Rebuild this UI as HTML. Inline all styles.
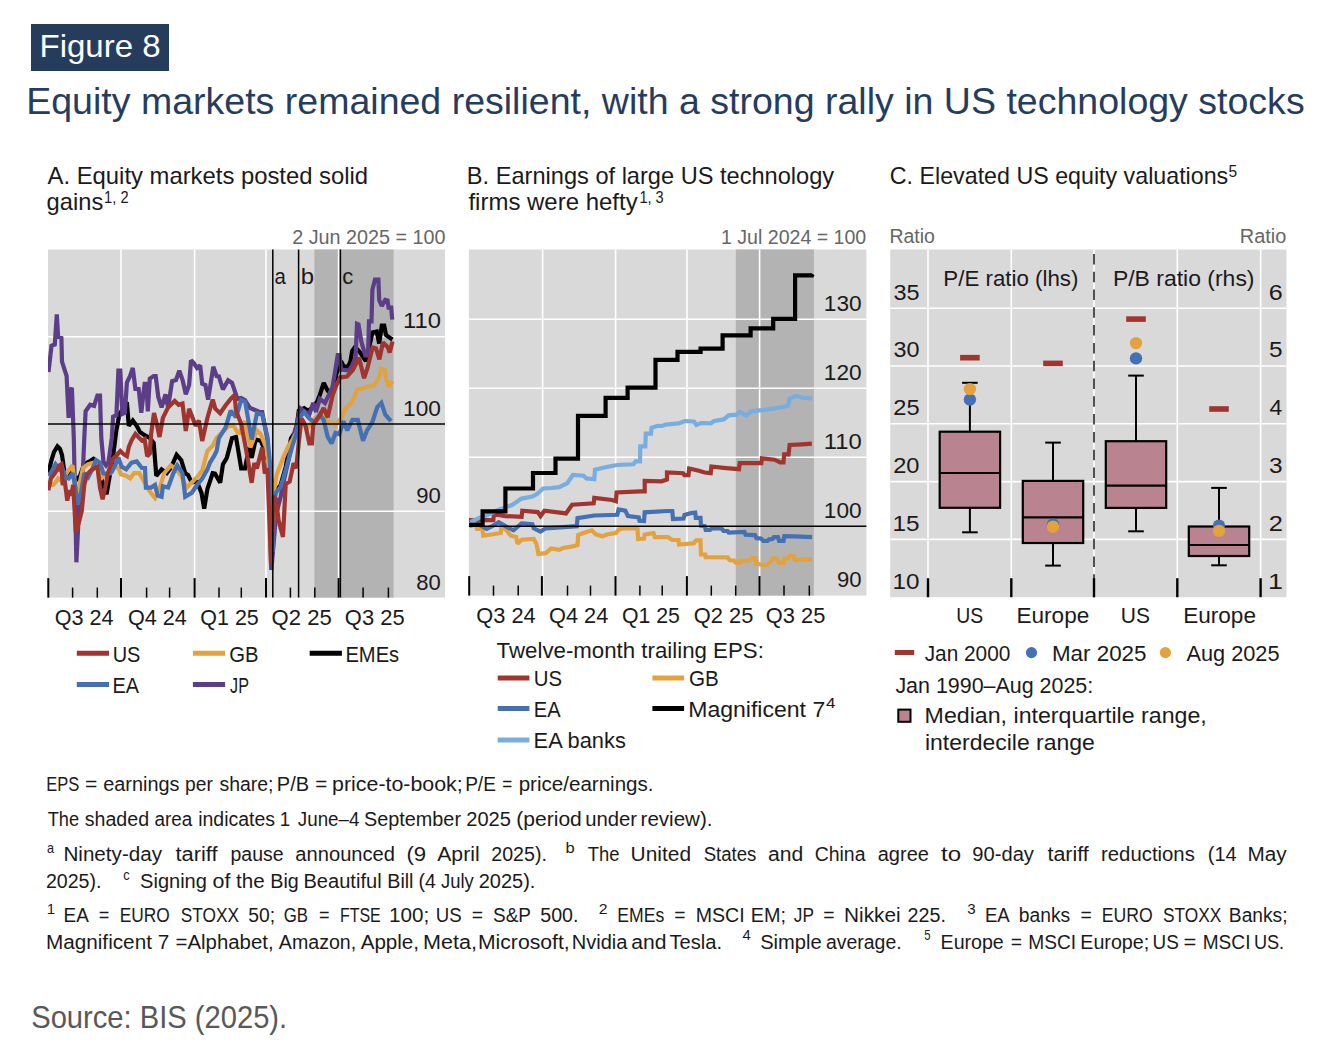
<!DOCTYPE html>
<html><head><meta charset="utf-8"><title>Figure 8</title>
<style>
html,body{margin:0;padding:0;background:#ffffff;}
body{width:1336px;height:1056px;overflow:hidden;}
svg{display:block;font-family:"Liberation Sans", sans-serif;}
</style></head>
<body>
<svg width="1336" height="1056" viewBox="0 0 1336 1056">
<rect x="0" y="0" width="1336" height="1056" fill="#ffffff"/>
<rect x="31.0" y="24.0" width="138.0" height="47.0" fill="#263c5d"/>
<text x="39.49" y="57.2" font-size="32" fill="#ffffff" textLength="121.14" lengthAdjust="spacingAndGlyphs">Figure 8</text>
<text x="26.22" y="113.9" font-size="36" fill="#263c5d" textLength="1278.43" lengthAdjust="spacingAndGlyphs">Equity markets remained resilient, with a strong rally in US technology stocks</text>
<text x="47.55" y="184.0" font-size="24" fill="#1a1a1a" textLength="320.57" lengthAdjust="spacingAndGlyphs">A. Equity markets posted solid</text>
<text x="46.60" y="210.2" font-size="24" fill="#1a1a1a" textLength="56.64" lengthAdjust="spacingAndGlyphs">gains</text>
<text x="104.09" y="202.5" font-size="16" fill="#1a1a1a" textLength="24.45" lengthAdjust="spacingAndGlyphs">1, 2</text>
<text x="466.87" y="184.0" font-size="24" fill="#1a1a1a" textLength="367.27" lengthAdjust="spacingAndGlyphs">B. Earnings of large US technology</text>
<text x="468.46" y="210.2" font-size="24" fill="#1a1a1a" textLength="169.19" lengthAdjust="spacingAndGlyphs">firms were hefty</text>
<text x="639.39" y="202.5" font-size="16" fill="#1a1a1a" textLength="24.34" lengthAdjust="spacingAndGlyphs">1, 3</text>
<text x="889.84" y="184.4" font-size="24" fill="#1a1a1a" textLength="338.39" lengthAdjust="spacingAndGlyphs">C. Elevated US equity valuations</text>
<text x="1228.58" y="176.8" font-size="16" fill="#1a1a1a" textLength="8.66" lengthAdjust="spacingAndGlyphs">5</text>
<text x="292.21" y="243.5" font-size="19.5" fill="#666666" textLength="153.34" lengthAdjust="spacingAndGlyphs">2 Jun 2025 = 100</text>
<text x="721.01" y="243.5" font-size="19.5" fill="#666666" textLength="145.23" lengthAdjust="spacingAndGlyphs">1 Jul 2024 = 100</text>
<text x="889.41" y="243.0" font-size="19.5" fill="#666666" textLength="45.40" lengthAdjust="spacingAndGlyphs">Ratio</text>
<text x="1239.87" y="243.0" font-size="19.5" fill="#666666" textLength="46.46" lengthAdjust="spacingAndGlyphs">Ratio</text>
<rect x="48.0" y="249.5" width="397.0" height="348.1" fill="#d9d9d9"/>
<rect x="314.4" y="249.5" width="79.2" height="348.1" fill="#b3b3b3"/>
<line x1="48.0" y1="336.8" x2="445.0" y2="336.8" stroke="#ffffff" stroke-width="1.6"/>
<line x1="48.0" y1="511.2" x2="445.0" y2="511.2" stroke="#ffffff" stroke-width="1.6"/>
<line x1="121.0" y1="249.5" x2="121.0" y2="597.6" stroke="#ffffff" stroke-width="1.6"/>
<line x1="194.6" y1="249.5" x2="194.6" y2="597.6" stroke="#ffffff" stroke-width="1.6"/>
<line x1="266.0" y1="249.5" x2="266.0" y2="597.6" stroke="#ffffff" stroke-width="1.6"/>
<line x1="338.6" y1="249.5" x2="338.6" y2="597.6" stroke="#ffffff" stroke-width="1.6"/>
<clipPath id="clipA"><rect x="48" y="249.5" width="397" height="348.1"/></clipPath>
<g clip-path="url(#clipA)">
<polyline points="48.3,473.2 51.5,460.1 54.0,452.0 57.4,446.4 60.0,449.0 62.0,454.9 64.6,473.2 67.9,475.8 72.0,472.0 76.0,480.0 80.0,476.0 83.5,466.0 86.9,462.7 90.0,461.0 93.5,458.8 97.0,462.0 100.0,470.0 103.0,485.0 106.6,494.2 109.0,480.0 113.1,456.2 116.4,430.0 118.4,420.0 119.0,415.3 122.0,410.0 126.9,402.2 128.8,425.8 132.8,420.5 136.7,425.8 140.0,432.0 144.6,435.2 149.8,437.9 153.7,443.0 156.3,475.8 161.6,469.3 166.8,473.2 170.8,468.0 176.6,454.9 181.2,460.1 185.2,473.2 188.0,475.0 191.7,482.4 197.0,482.0 201.5,492.9 204.2,508.6 207.4,489.0 212.7,473.2 215.0,473.6 220.2,482.8 222.9,464.4 226.8,457.9 232.0,438.2 236.0,436.9 241.2,468.4 245.0,468.4 249.1,447.4 251.7,457.9 255.6,439.5 260.8,440.8 264.8,450.0 268.7,463.1 272.6,489.3 277.0,489.3 280.5,485.4 285.7,467.0 291.0,438.2 293.6,434.3 296.0,432.0 298.8,410.7 304.1,408.1 308.0,410.7 312.0,408.0 317.2,401.5 319.8,395.0 323.7,382.9 327.7,390.8 331.0,393.0 334.0,385.0 337.0,372.0 341.1,361.2 343.6,366.3 347.9,367.1 350.5,361.2 352.2,350.9 354.7,347.5 358.0,350.0 361.5,354.3 365.8,361.2 369.0,348.0 372.4,332.5 376.7,331.6 379.2,343.5 381.8,325.6 384.2,325.6 386.0,335.0 389.4,337.6 392.5,339.3" fill="none" stroke="#000000" stroke-width="4.2" stroke-linejoin="miter" stroke-miterlimit="2"/>
<polyline points="48.5,372.0 51.5,345.8 54.8,344.5 56.8,314.4 58.1,336.7 61.4,338.0 62.0,361.6 66.6,376.0 68.6,417.9 70.5,390.0 71.9,387.8 73.8,438.0 76.4,562.3 78.5,520.0 80.5,490.0 83.0,468.0 84.3,438.0 85.6,411.3 90.2,404.8 94.1,406.0 97.4,395.6 100.0,395.6 101.3,438.0 103.5,462.0 106.0,465.4 108.5,462.0 111.8,438.0 113.1,416.6 116.4,415.3 118.4,370.7 120.3,370.7 122.3,414.0 124.9,412.7 126.9,382.5 130.1,376.0 132.8,368.0 135.4,389.0 138.7,389.0 141.3,412.7 144.6,383.8 146.5,383.8 147.8,411.3 149.8,378.6 153.7,376.0 155.7,376.0 158.3,397.0 161.6,407.4 165.5,394.3 168.1,407.4 172.1,381.2 176.0,380.0 179.3,370.7 182.5,379.9 185.8,394.3 189.1,385.1 191.0,360.3 193.6,362.9 197.0,368.0 200.2,365.5 202.2,383.8 205.4,385.1 208.1,399.6 213.3,366.8 216.6,376.0 218.9,376.3 222.9,389.4 228.1,380.3 232.0,382.9 236.0,394.7 237.3,398.9 241.0,398.0 245.0,400.0 250.0,408.0 255.0,410.0 259.5,412.0 262.2,412.0 267.4,439.5 269.5,500.0 271.3,570.0 273.5,545.0 276.0,515.0 280.5,497.2 284.0,480.0 288.4,460.5 293.6,435.6 297.5,421.2 300.1,408.1 305.4,412.0 309.3,414.6 313.2,402.9 315.9,412.0 319.8,398.9 325.0,402.9 329.0,394.7 332.6,386.7 335.0,372.0 337.7,355.2 339.5,355.2 341.1,369.7 348.8,370.5 352.0,366.0 355.6,356.9 357.0,323.9 358.5,324.5 361.5,342.4 365.8,356.9 368.1,352.0 369.0,321.4 371.5,321.4 372.4,289.8 375.0,279.6 378.4,279.6 379.2,300.0 381.8,306.0 385.2,300.0 387.5,300.5 388.6,307.7 391.2,307.7 392.2,319.7" fill="none" stroke="#5c3d87" stroke-width="4.2" stroke-linejoin="miter" stroke-miterlimit="2"/>
<polyline points="48.3,485.0 52.9,485.0 55.5,482.4 58.1,478.5 62.0,481.1 67.3,471.9 72.5,465.4 76.4,498.1 79.1,486.3 83.0,468.0 88.2,464.1 93.5,462.7 98.7,464.1 102.6,477.2 106.6,473.2 110.5,473.2 114.4,466.7 118.4,468.0 121.0,474.5 126.2,475.8 130.1,478.5 134.1,473.2 139.3,473.2 144.6,482.4 149.8,491.6 155.0,498.1 160.3,486.3 164.2,473.2 170.8,465.4 176.0,469.3 181.2,475.8 186.5,487.6 191.7,482.4 197.0,477.2 202.2,470.6 207.4,451.0 212.7,445.7 216.6,437.9 221.5,433.0 228.1,426.4 233.3,425.1 238.6,434.3 245.1,421.2 250.4,447.4 256.9,430.4 260.8,434.3 266.1,447.4 271.3,484.1 274.0,492.0 276.6,474.9 283.1,457.9 288.4,446.1 293.6,438.2 298.8,427.7 302.8,421.2 306.7,429.1 314.6,418.6 322.4,416.0 329.0,422.5 335.5,425.1 340.8,418.6 346.0,408.1 351.2,402.9 353.9,398.0 357.3,389.3 362.4,388.4 367.5,386.7 374.3,385.0 378.6,378.2 381.2,368.8 384.6,369.7 386.3,379.9 388.8,386.7 392.5,380.8" fill="none" stroke="#e3a23e" stroke-width="4.2" stroke-linejoin="miter" stroke-miterlimit="2"/>
<polyline points="48.3,475.8 51.5,471.9 55.5,464.1 59.4,469.3 62.0,466.7 65.3,477.2 68.6,478.5 72.5,473.2 75.1,485.0 77.7,504.7 81.0,492.9 84.3,473.2 88.2,477.2 92.2,469.3 96.1,460.1 100.0,462.7 103.3,473.2 107.9,474.5 111.8,471.9 115.7,464.1 118.4,457.5 121.6,466.7 126.2,469.3 131.5,462.7 136.7,461.4 141.9,468.0 145.0,468.0 145.9,487.6 151.1,487.6 155.0,485.0 157.7,495.5 161.6,496.8 162.9,486.3 168.1,487.6 173.4,473.2 177.3,465.4 182.5,473.2 185.2,496.8 191.7,492.9 197.0,485.0 202.2,478.5 207.4,469.3 210.0,462.7 214.0,456.2 216.6,451.0 218.9,438.2 225.5,427.7 230.7,410.7 236.0,417.3 241.2,400.2 245.1,401.5 251.7,439.5 256.9,413.3 262.2,414.6 267.4,436.9 270.0,463.1 271.8,530.0 272.8,552.0 274.2,500.0 276.3,492.0 279.0,489.0 280.5,487.0 283.1,478.8 288.4,460.5 292.3,446.1 296.2,434.3 298.8,418.6 304.1,412.0 309.3,418.6 314.6,422.5 319.8,414.6 323.7,419.9 327.7,436.9 331.6,443.5 335.5,433.0 339.4,434.3 343.4,421.2 347.3,430.4 352.5,419.9 357.8,419.9 363.0,440.8 367.0,430.4 372.2,422.5 377.4,406.8 381.4,402.9 385.3,414.6 391.0,421.2" fill="none" stroke="#4570b3" stroke-width="4.2" stroke-linejoin="miter" stroke-miterlimit="2"/>
<polyline points="48.3,490.3 50.9,478.5 54.8,473.2 57.4,469.3 59.4,465.4 61.4,464.1 62.7,485.0 64.6,479.8 67.3,500.7 69.2,490.3 71.2,495.5 73.2,485.0 75.8,532.2 79.1,521.7 81.7,511.2 84.3,485.0 86.9,474.5 90.8,470.6 94.8,468.0 97.4,466.7 100.0,487.6 102.6,499.4 105.3,487.6 107.9,473.2 110.5,465.4 113.1,458.8 116.4,455.5 120.3,451.0 123.6,454.2 126.9,456.2 128.8,447.0 131.5,440.5 135.4,434.0 139.3,437.9 141.9,440.5 144.6,439.0 147.2,456.2 149.8,453.6 151.1,434.0 154.0,413.0 157.0,425.0 159.5,437.0 162.9,417.9 168.1,407.4 174.7,400.9 178.6,404.8 182.5,403.5 185.8,431.0 189.1,408.7 195.6,425.8 198.9,420.5 202.2,441.0 207.4,417.9 212.7,399.6 215.3,408.7 220.2,413.3 225.5,405.5 230.7,398.9 234.6,395.0 236.0,410.7 241.2,423.8 246.4,451.3 251.7,482.8 254.3,463.1 256.9,468.4 262.2,447.4 264.8,473.6 267.4,468.4 271.0,564.0 273.8,496.0 276.0,499.0 278.5,520.0 283.0,537.0 285.7,484.1 289.7,481.5 293.6,463.1 296.2,468.4 298.8,442.2 301.5,418.6 305.4,425.1 309.3,443.5 311.9,443.5 313.2,425.1 318.5,417.3 323.7,408.1 327.7,417.3 332.6,395.3 336.0,386.0 340.2,377.3 347.0,376.5 353.0,369.7 359.0,357.7 364.1,378.2 367.5,368.0 372.6,347.5 376.0,348.5 379.4,359.4 382.9,342.4 388.0,347.5 389.7,352.6 392.5,341.5" fill="none" stroke="#a0342f" stroke-width="4.2" stroke-linejoin="miter" stroke-miterlimit="2"/>
</g>
<line x1="48.0" y1="424.0" x2="445.0" y2="424.0" stroke="#000000" stroke-width="1.5"/>
<line x1="272.8" y1="249.5" x2="272.8" y2="597.6" stroke="#000000" stroke-width="1.5"/>
<line x1="298.6" y1="249.5" x2="298.6" y2="597.6" stroke="#000000" stroke-width="1.5"/>
<line x1="340.4" y1="249.5" x2="340.4" y2="597.6" stroke="#000000" stroke-width="1.5"/>
<text x="274.44" y="283.5" font-size="21.5" fill="#1a1a1a" textLength="11.34" lengthAdjust="spacingAndGlyphs">a</text>
<text x="300.67" y="283.5" font-size="21.5" fill="#1a1a1a" textLength="13.32" lengthAdjust="spacingAndGlyphs">b</text>
<text x="342.38" y="283.5" font-size="21.5" fill="#1a1a1a" textLength="11.00" lengthAdjust="spacingAndGlyphs">c</text>
<line x1="48.3" y1="578.1" x2="48.3" y2="597.6" stroke="#000000" stroke-width="2"/>
<line x1="121.0" y1="578.1" x2="121.0" y2="597.6" stroke="#000000" stroke-width="2"/>
<line x1="194.6" y1="578.1" x2="194.6" y2="597.6" stroke="#000000" stroke-width="2"/>
<line x1="266.0" y1="578.1" x2="266.0" y2="597.6" stroke="#000000" stroke-width="2"/>
<line x1="338.6" y1="578.1" x2="338.6" y2="597.6" stroke="#000000" stroke-width="2"/>
<line x1="72.6" y1="587.6" x2="72.6" y2="597.6" stroke="#000000" stroke-width="1.5"/>
<line x1="97.3" y1="587.6" x2="97.3" y2="597.6" stroke="#000000" stroke-width="1.5"/>
<line x1="146.6" y1="587.6" x2="146.6" y2="597.6" stroke="#000000" stroke-width="1.5"/>
<line x1="169.6" y1="587.6" x2="169.6" y2="597.6" stroke="#000000" stroke-width="1.5"/>
<line x1="219.0" y1="587.6" x2="219.0" y2="597.6" stroke="#000000" stroke-width="1.5"/>
<line x1="241.3" y1="587.6" x2="241.3" y2="597.6" stroke="#000000" stroke-width="1.5"/>
<line x1="290.4" y1="587.6" x2="290.4" y2="597.6" stroke="#000000" stroke-width="1.5"/>
<line x1="314.8" y1="587.6" x2="314.8" y2="597.6" stroke="#000000" stroke-width="1.5"/>
<line x1="363.1" y1="587.6" x2="363.1" y2="597.6" stroke="#000000" stroke-width="1.5"/>
<line x1="388.4" y1="587.6" x2="388.4" y2="597.6" stroke="#000000" stroke-width="1.5"/>
<text x="402.99" y="328.0" font-size="21.5" fill="#1a1a1a" textLength="37.92" lengthAdjust="spacingAndGlyphs">110</text>
<text x="403.08" y="415.7" font-size="21.5" fill="#1a1a1a" textLength="37.79" lengthAdjust="spacingAndGlyphs">100</text>
<text x="416.28" y="502.6" font-size="21.5" fill="#1a1a1a" textLength="24.56" lengthAdjust="spacingAndGlyphs">90</text>
<text x="416.35" y="589.9" font-size="21.5" fill="#1a1a1a" textLength="24.49" lengthAdjust="spacingAndGlyphs">80</text>
<text x="54.68" y="624.7" font-size="21.5" fill="#1a1a1a" textLength="58.84" lengthAdjust="spacingAndGlyphs">Q3 24</text>
<text x="127.98" y="624.7" font-size="21.5" fill="#1a1a1a" textLength="58.84" lengthAdjust="spacingAndGlyphs">Q4 24</text>
<text x="200.29" y="624.7" font-size="21.5" fill="#1a1a1a" textLength="58.49" lengthAdjust="spacingAndGlyphs">Q1 25</text>
<text x="271.56" y="624.7" font-size="21.5" fill="#1a1a1a" textLength="60.15" lengthAdjust="spacingAndGlyphs">Q2 25</text>
<text x="344.87" y="624.7" font-size="21.5" fill="#1a1a1a" textLength="59.73" lengthAdjust="spacingAndGlyphs">Q3 25</text>
<line x1="76.8" y1="653.2" x2="109.0" y2="653.2" stroke="#a0342f" stroke-width="5.0"/>
<text x="112.66" y="661.5" font-size="21.5" fill="#1a1a1a" textLength="27.74" lengthAdjust="spacingAndGlyphs">US</text>
<line x1="192.9" y1="653.2" x2="225.1" y2="653.2" stroke="#e3a23e" stroke-width="5.0"/>
<text x="229.29" y="661.5" font-size="21.5" fill="#1a1a1a" textLength="29.26" lengthAdjust="spacingAndGlyphs">GB</text>
<line x1="309.7" y1="653.2" x2="341.9" y2="653.2" stroke="#000000" stroke-width="5.0"/>
<text x="345.45" y="661.5" font-size="21.5" fill="#1a1a1a" textLength="53.68" lengthAdjust="spacingAndGlyphs">EMEs</text>
<line x1="76.8" y1="684.5" x2="109.0" y2="684.5" stroke="#4570b3" stroke-width="5.0"/>
<text x="112.57" y="692.8" font-size="21.5" fill="#1a1a1a" textLength="26.47" lengthAdjust="spacingAndGlyphs">EA</text>
<line x1="192.9" y1="684.5" x2="225.1" y2="684.5" stroke="#5c3d87" stroke-width="5.0"/>
<text x="230.06" y="692.8" font-size="21.5" fill="#1a1a1a" textLength="18.88" lengthAdjust="spacingAndGlyphs">JP</text>
<rect x="468.9" y="249.5" width="397.5" height="346.1" fill="#d9d9d9"/>
<rect x="735.8" y="249.5" width="78.1" height="346.1" fill="#b3b3b3"/>
<line x1="468.9" y1="319.2" x2="866.4" y2="319.2" stroke="#ffffff" stroke-width="1.6"/>
<line x1="468.9" y1="388.2" x2="866.4" y2="388.2" stroke="#ffffff" stroke-width="1.6"/>
<line x1="468.9" y1="457.2" x2="866.4" y2="457.2" stroke="#ffffff" stroke-width="1.6"/>
<line x1="542.6" y1="249.5" x2="542.6" y2="595.6" stroke="#ffffff" stroke-width="1.6"/>
<line x1="615.6" y1="249.5" x2="615.6" y2="595.6" stroke="#ffffff" stroke-width="1.6"/>
<line x1="687.0" y1="249.5" x2="687.0" y2="595.6" stroke="#ffffff" stroke-width="1.6"/>
<line x1="759.6" y1="249.5" x2="759.6" y2="595.6" stroke="#ffffff" stroke-width="1.6"/>
<clipPath id="clipB"><rect x="468.9" y="249.5" width="397.5" height="346.1"/></clipPath>
<g clip-path="url(#clipB)">
<polyline points="469.5,524.9 475.8,524.9 477.1,528.9 482.5,528.9 483.2,535.7 493.3,534.3 500.7,533.0 501.4,527.6 505.4,528.9 510.8,535.7 516.2,537.0 517.5,543.7 521.6,539.7 533.7,539.0 536.4,543.7 538.4,553.9 545.8,553.2 551.2,548.5 559.3,549.8 563.0,548.0 572.8,546.4 577.5,545.1 578.2,535.0 583.6,533.0 591.7,530.3 595.7,534.3 602.4,536.3 607.8,534.3 615.9,533.0 618.6,529.6 624.0,528.3 637.5,528.3 638.1,539.0 644.0,538.6 644.7,534.5 653.5,533.2 654.8,537.2 668.0,537.2 672.3,540.0 678.5,540.0 679.0,544.6 693.9,543.3 694.7,541.9 696.3,540.3 700.5,540.3 701.0,554.5 705.2,554.5 705.7,557.1 727.7,557.4 729.8,560.3 734.0,560.5 736.1,562.9 740.0,562.9 740.3,560.8 749.0,560.5 751.8,558.2 755.5,558.2 756.0,563.4 762.3,565.0 767.0,565.0 769.6,562.9 772.8,558.7 777.0,558.7 779.1,562.9 783.5,562.9 784.3,558.7 787.5,558.7 789.5,556.1 794.0,556.1 794.8,560.3 812.1,559.2" fill="none" stroke="#e3a23e" stroke-width="4.2" stroke-linejoin="miter" stroke-miterlimit="2"/>
<polyline points="469.5,525.6 478.5,524.2 486.6,528.9 494.6,524.9 498.7,522.2 506.8,526.9 513.5,530.3 521.6,523.5 532.4,524.2 533.7,528.3 540.5,531.6 545.8,528.3 576.8,526.2 577.5,518.1 594.3,515.5 617.3,514.8 618.6,509.4 625.3,510.7 628.0,516.1 638.8,517.5 639.5,520.8 644.0,521.0 644.7,512.3 667.0,511.0 672.3,511.0 673.0,519.0 683.5,518.5 684.5,515.0 691.2,513.0 695.2,512.6 695.8,517.8 700.5,517.8 701.0,525.7 704.7,526.2 705.7,529.9 710.0,529.9 712.0,528.3 721.4,528.3 723.5,530.9 727.5,531.0 728.8,532.5 744.5,532.0 745.5,534.6 755.0,535.1 756.5,538.2 761.0,538.5 763.4,540.9 767.5,540.9 769.1,539.3 772.5,539.0 773.8,537.2 778.0,537.2 779.1,540.9 783.5,540.9 784.3,536.2 795.0,536.3 812.1,537.2" fill="none" stroke="#4570b3" stroke-width="4.2" stroke-linejoin="miter" stroke-miterlimit="2"/>
<polyline points="469.5,522.2 470.4,520.2 493.3,520.2 494.0,514.1 505.4,516.1 521.6,516.8 522.3,510.7 537.8,512.1 540.5,516.1 544.5,510.7 566.0,513.4 572.1,504.7 593.7,503.3 594.3,497.9 611.9,500.0 615.9,501.3 616.6,492.5 640.5,491.4 644.7,491.4 644.7,481.0 661.6,481.3 667.0,479.5 667.0,472.5 683.1,473.2 684.5,475.2 688.5,475.2 689.2,468.5 697.9,470.5 704.7,472.5 710.7,473.2 711.4,466.5 723.5,467.8 739.0,469.2 739.7,463.1 761.3,463.1 761.9,458.4 774.7,459.7 780.1,462.4 783.5,462.4 784.2,454.4 788.6,454.4 789.6,444.9 801.7,444.3 811.8,443.6" fill="none" stroke="#a0342f" stroke-width="4.2" stroke-linejoin="miter" stroke-miterlimit="2"/>
<polyline points="470.4,522.2 478.5,518.1 485.0,516.0 492.0,512.8 498.0,510.0 505.4,507.4 512.0,505.0 521.6,498.6 532.4,496.6 537.0,494.0 543.1,488.5 551.0,488.0 559.3,487.2 567.4,483.1 572.8,475.0 583.6,475.7 586.3,478.4 594.3,479.1 595.0,469.6 606.5,467.0 617.3,465.0 633.4,464.3 635.5,461.3 640.0,461.3 640.3,446.4 645.3,446.4 645.8,433.6 651.0,433.6 651.5,427.9 657.8,425.8 662.0,426.0 665.8,424.6 678.6,423.4 685.0,421.0 694.0,421.5 696.4,425.0 701.0,423.0 710.8,423.4 714.1,421.0 723.7,419.4 728.6,415.4 736.6,414.6 739.8,412.1 746.3,415.4 751.1,411.3 765.6,409.7 781.7,407.3 788.1,405.7 789.7,398.5 796.2,396.0 802.0,397.5 812.3,398.5" fill="none" stroke="#78ade0" stroke-width="4.2" stroke-linejoin="miter" stroke-miterlimit="2"/>
<polyline points="469.0,524.8 482.6,524.8 482.6,511.4 505.4,511.4 505.4,488.5 533.0,488.5 533.0,473.0 555.5,473.0 555.5,458.6 578.0,458.6 578.0,415.8 605.6,415.8 605.6,397.8 627.6,397.8 627.6,387.6 655.5,387.6 655.5,359.8 677.5,359.8 677.5,351.8 700.6,351.8 700.6,348.6 722.6,348.6 722.6,335.4 750.6,335.4 750.6,328.4 773.2,328.4 773.2,318.8 795.1,318.8 795.1,275.3 812.0,275.3 812.6,274.0" fill="none" stroke="#000000" stroke-width="4.2" stroke-linejoin="miter" stroke-miterlimit="2"/>
</g>
<line x1="468.9" y1="526.2" x2="866.4" y2="526.2" stroke="#000000" stroke-width="1.5"/>
<line x1="469.2" y1="576.1" x2="469.2" y2="595.6" stroke="#000000" stroke-width="2"/>
<line x1="541.9" y1="576.1" x2="541.9" y2="595.6" stroke="#000000" stroke-width="2"/>
<line x1="615.5" y1="576.1" x2="615.5" y2="595.6" stroke="#000000" stroke-width="2"/>
<line x1="686.9" y1="576.1" x2="686.9" y2="595.6" stroke="#000000" stroke-width="2"/>
<line x1="759.5" y1="576.1" x2="759.5" y2="595.6" stroke="#000000" stroke-width="2"/>
<line x1="493.5" y1="585.6" x2="493.5" y2="595.6" stroke="#000000" stroke-width="1.5"/>
<line x1="518.2" y1="585.6" x2="518.2" y2="595.6" stroke="#000000" stroke-width="1.5"/>
<line x1="567.5" y1="585.6" x2="567.5" y2="595.6" stroke="#000000" stroke-width="1.5"/>
<line x1="590.5" y1="585.6" x2="590.5" y2="595.6" stroke="#000000" stroke-width="1.5"/>
<line x1="639.9" y1="585.6" x2="639.9" y2="595.6" stroke="#000000" stroke-width="1.5"/>
<line x1="662.2" y1="585.6" x2="662.2" y2="595.6" stroke="#000000" stroke-width="1.5"/>
<line x1="711.3" y1="585.6" x2="711.3" y2="595.6" stroke="#000000" stroke-width="1.5"/>
<line x1="735.7" y1="585.6" x2="735.7" y2="595.6" stroke="#000000" stroke-width="1.5"/>
<line x1="784.0" y1="585.6" x2="784.0" y2="595.6" stroke="#000000" stroke-width="1.5"/>
<line x1="809.3" y1="585.6" x2="809.3" y2="595.6" stroke="#000000" stroke-width="1.5"/>
<text x="823.88" y="310.7" font-size="21.5" fill="#1a1a1a" textLength="37.79" lengthAdjust="spacingAndGlyphs">130</text>
<text x="823.88" y="379.7" font-size="21.5" fill="#1a1a1a" textLength="37.79" lengthAdjust="spacingAndGlyphs">120</text>
<text x="823.79" y="448.7" font-size="21.5" fill="#1a1a1a" textLength="37.92" lengthAdjust="spacingAndGlyphs">110</text>
<text x="823.88" y="517.7" font-size="21.5" fill="#1a1a1a" textLength="37.79" lengthAdjust="spacingAndGlyphs">100</text>
<text x="837.08" y="586.7" font-size="21.5" fill="#1a1a1a" textLength="24.56" lengthAdjust="spacingAndGlyphs">90</text>
<text x="476.28" y="622.5" font-size="21.5" fill="#1a1a1a" textLength="59.36" lengthAdjust="spacingAndGlyphs">Q3 24</text>
<text x="548.98" y="622.5" font-size="21.5" fill="#1a1a1a" textLength="59.36" lengthAdjust="spacingAndGlyphs">Q4 24</text>
<text x="621.90" y="622.5" font-size="21.5" fill="#1a1a1a" textLength="57.98" lengthAdjust="spacingAndGlyphs">Q1 25</text>
<text x="693.77" y="622.5" font-size="21.5" fill="#1a1a1a" textLength="59.53" lengthAdjust="spacingAndGlyphs">Q2 25</text>
<text x="765.77" y="622.5" font-size="21.5" fill="#1a1a1a" textLength="59.53" lengthAdjust="spacingAndGlyphs">Q3 25</text>
<text x="496.61" y="657.7" font-size="21.5" fill="#1a1a1a" textLength="267.21" lengthAdjust="spacingAndGlyphs">Twelve-month trailing EPS:</text>
<line x1="497.7" y1="678.1" x2="529.4" y2="678.1" stroke="#a0342f" stroke-width="5.0"/>
<text x="533.83" y="686.2" font-size="21.5" fill="#1a1a1a" textLength="28.29" lengthAdjust="spacingAndGlyphs">US</text>
<line x1="652.4" y1="678.1" x2="684.1" y2="678.1" stroke="#e3a23e" stroke-width="5.0"/>
<text x="689.07" y="686.2" font-size="21.5" fill="#1a1a1a" textLength="29.80" lengthAdjust="spacingAndGlyphs">GB</text>
<line x1="497.7" y1="708.6" x2="529.4" y2="708.6" stroke="#4570b3" stroke-width="5.0"/>
<text x="533.75" y="716.7" font-size="21.5" fill="#1a1a1a" textLength="26.79" lengthAdjust="spacingAndGlyphs">EA</text>
<line x1="652.4" y1="708.6" x2="684.1" y2="708.6" stroke="#000000" stroke-width="5.0"/>
<text x="688.21" y="716.7" font-size="21.5" fill="#1a1a1a" textLength="137.04" lengthAdjust="spacingAndGlyphs">Magnificent 7</text>
<line x1="497.7" y1="740.0" x2="529.4" y2="740.0" stroke="#78ade0" stroke-width="5.0"/>
<text x="533.61" y="748.1" font-size="21.5" fill="#1a1a1a" textLength="92.18" lengthAdjust="spacingAndGlyphs">EA banks</text>
<text x="825.93" y="707.7" font-size="15.5" fill="#1a1a1a" textLength="9.47" lengthAdjust="spacingAndGlyphs">4</text>
<rect x="890.2" y="249.5" width="396.3" height="347.7" fill="#d9d9d9"/>
<line x1="890.2" y1="539.4" x2="1286.5" y2="539.4" stroke="#ffffff" stroke-width="1.6"/>
<line x1="890.2" y1="481.6" x2="1286.5" y2="481.6" stroke="#ffffff" stroke-width="1.6"/>
<line x1="890.2" y1="423.8" x2="1286.5" y2="423.8" stroke="#ffffff" stroke-width="1.6"/>
<line x1="890.2" y1="366.0" x2="1286.5" y2="366.0" stroke="#ffffff" stroke-width="1.6"/>
<line x1="890.2" y1="308.2" x2="1286.5" y2="308.2" stroke="#ffffff" stroke-width="1.6"/>
<line x1="928.0" y1="249.5" x2="928.0" y2="597.2" stroke="#ffffff" stroke-width="1.6"/>
<line x1="1011.3" y1="249.5" x2="1011.3" y2="597.2" stroke="#ffffff" stroke-width="1.6"/>
<line x1="1094.0" y1="249.5" x2="1094.0" y2="597.2" stroke="#ffffff" stroke-width="1.6"/>
<line x1="1177.3" y1="249.5" x2="1177.3" y2="597.2" stroke="#ffffff" stroke-width="1.6"/>
<line x1="1260.6" y1="249.5" x2="1260.6" y2="597.2" stroke="#ffffff" stroke-width="1.6"/>
<line x1="1094.0" y1="253.9" x2="1094.0" y2="597.2" stroke="#505050" stroke-width="2" stroke-dasharray="10.5 7.3"/>
<line x1="928.0" y1="578.2" x2="928.0" y2="597.2" stroke="#000000" stroke-width="2.4"/>
<line x1="1011.3" y1="578.2" x2="1011.3" y2="597.2" stroke="#000000" stroke-width="2.4"/>
<line x1="1094.0" y1="578.2" x2="1094.0" y2="597.2" stroke="#000000" stroke-width="2.4"/>
<line x1="1177.3" y1="578.2" x2="1177.3" y2="597.2" stroke="#000000" stroke-width="2.4"/>
<line x1="1260.6" y1="578.2" x2="1260.6" y2="597.2" stroke="#000000" stroke-width="2.4"/>
<text x="943.37" y="285.5" font-size="21.5" fill="#1a1a1a" textLength="135.01" lengthAdjust="spacingAndGlyphs">P/E ratio (lhs)</text>
<text x="1112.92" y="285.5" font-size="21.5" fill="#1a1a1a" textLength="141.61" lengthAdjust="spacingAndGlyphs">P/B ratio (rhs)</text>
<text x="892.56" y="588.6" font-size="21.5" fill="#1a1a1a" textLength="26.97" lengthAdjust="spacingAndGlyphs">10</text>
<text x="892.55" y="530.8" font-size="21.5" fill="#1a1a1a" textLength="27.05" lengthAdjust="spacingAndGlyphs">15</text>
<text x="893.22" y="473.0" font-size="21.5" fill="#1a1a1a" textLength="26.29" lengthAdjust="spacingAndGlyphs">20</text>
<text x="893.21" y="415.2" font-size="21.5" fill="#1a1a1a" textLength="26.36" lengthAdjust="spacingAndGlyphs">25</text>
<text x="893.51" y="357.4" font-size="21.5" fill="#1a1a1a" textLength="25.98" lengthAdjust="spacingAndGlyphs">30</text>
<text x="893.51" y="299.6" font-size="21.5" fill="#1a1a1a" textLength="26.06" lengthAdjust="spacingAndGlyphs">35</text>
<text x="1267.96" y="588.6" font-size="21.5" fill="#1a1a1a" textLength="14.93" lengthAdjust="spacingAndGlyphs">1</text>
<text x="1268.73" y="530.8" font-size="21.5" fill="#1a1a1a" textLength="14.15" lengthAdjust="spacingAndGlyphs">2</text>
<text x="1269.07" y="473.0" font-size="21.5" fill="#1a1a1a" textLength="13.58" lengthAdjust="spacingAndGlyphs">3</text>
<text x="1269.49" y="415.2" font-size="21.5" fill="#1a1a1a" textLength="12.78" lengthAdjust="spacingAndGlyphs">4</text>
<text x="1269.02" y="357.4" font-size="21.5" fill="#1a1a1a" textLength="13.58" lengthAdjust="spacingAndGlyphs">5</text>
<text x="1268.75" y="299.6" font-size="21.5" fill="#1a1a1a" textLength="13.93" lengthAdjust="spacingAndGlyphs">6</text>
<text x="956.20" y="623.3" font-size="21.5" fill="#1a1a1a" textLength="26.97" lengthAdjust="spacingAndGlyphs">US</text>
<text x="1016.45" y="623.3" font-size="21.5" fill="#1a1a1a" textLength="72.86" lengthAdjust="spacingAndGlyphs">Europe</text>
<text x="1120.78" y="623.3" font-size="21.5" fill="#1a1a1a" textLength="29.16" lengthAdjust="spacingAndGlyphs">US</text>
<text x="1183.15" y="623.3" font-size="21.5" fill="#1a1a1a" textLength="72.86" lengthAdjust="spacingAndGlyphs">Europe</text>
<line x1="969.9" y1="382.8" x2="969.9" y2="431.7" stroke="#000000" stroke-width="2"/>
<line x1="969.9" y1="507.8" x2="969.9" y2="532.3" stroke="#000000" stroke-width="2"/>
<line x1="962.1" y1="382.8" x2="977.7" y2="382.8" stroke="#000000" stroke-width="2"/>
<line x1="962.1" y1="532.3" x2="977.7" y2="532.3" stroke="#000000" stroke-width="2"/>
<rect x="939.7" y="431.7" width="60.4" height="76.1" fill="#b9838f" stroke="#000000" stroke-width="2.2"/>
<line x1="939.7" y1="473.0" x2="1000.1" y2="473.0" stroke="#000000" stroke-width="2.2"/>
<rect x="960.1" y="354.9" width="19.6" height="5.6" fill="#a0342f"/>
<line x1="1053.0" y1="442.6" x2="1053.0" y2="480.9" stroke="#000000" stroke-width="2"/>
<line x1="1053.0" y1="543.0" x2="1053.0" y2="565.6" stroke="#000000" stroke-width="2"/>
<line x1="1045.2" y1="442.6" x2="1060.8" y2="442.6" stroke="#000000" stroke-width="2"/>
<line x1="1045.2" y1="565.6" x2="1060.8" y2="565.6" stroke="#000000" stroke-width="2"/>
<rect x="1022.8" y="480.9" width="60.4" height="62.1" fill="#b9838f" stroke="#000000" stroke-width="2.2"/>
<line x1="1022.8" y1="517.3" x2="1083.2" y2="517.3" stroke="#000000" stroke-width="2.2"/>
<rect x="1043.2" y="360.6" width="19.6" height="5.6" fill="#a0342f"/>
<line x1="1136.0" y1="375.6" x2="1136.0" y2="441.2" stroke="#000000" stroke-width="2"/>
<line x1="1136.0" y1="507.9" x2="1136.0" y2="531.3" stroke="#000000" stroke-width="2"/>
<line x1="1128.2" y1="375.6" x2="1143.8" y2="375.6" stroke="#000000" stroke-width="2"/>
<line x1="1128.2" y1="531.3" x2="1143.8" y2="531.3" stroke="#000000" stroke-width="2"/>
<rect x="1105.8" y="441.2" width="60.4" height="66.7" fill="#b9838f" stroke="#000000" stroke-width="2.2"/>
<line x1="1105.8" y1="485.6" x2="1166.2" y2="485.6" stroke="#000000" stroke-width="2.2"/>
<rect x="1126.2" y="316.3" width="19.6" height="5.6" fill="#a0342f"/>
<line x1="1219.0" y1="487.9" x2="1219.0" y2="526.5" stroke="#000000" stroke-width="2"/>
<line x1="1219.0" y1="556.0" x2="1219.0" y2="565.3" stroke="#000000" stroke-width="2"/>
<line x1="1211.2" y1="487.9" x2="1226.8" y2="487.9" stroke="#000000" stroke-width="2"/>
<line x1="1211.2" y1="565.3" x2="1226.8" y2="565.3" stroke="#000000" stroke-width="2"/>
<rect x="1188.8" y="526.5" width="60.4" height="29.5" fill="#b9838f" stroke="#000000" stroke-width="2.2"/>
<line x1="1188.8" y1="545.0" x2="1249.2" y2="545.0" stroke="#000000" stroke-width="2.2"/>
<rect x="1209.2" y="406.2" width="19.6" height="5.6" fill="#a0342f"/>
<circle cx="969.9" cy="399.6" r="6.2" fill="#4570b3"/>
<circle cx="969.9" cy="389.1" r="6.2" fill="#e3a23e"/>
<circle cx="1053.0" cy="524.5" r="6.2" fill="#4570b3"/>
<circle cx="1053.0" cy="526.7" r="6.2" fill="#e3a23e"/>
<circle cx="1136.0" cy="358.4" r="6.2" fill="#4570b3"/>
<circle cx="1136.0" cy="343.1" r="6.2" fill="#e3a23e"/>
<circle cx="1219.0" cy="525.7" r="6.2" fill="#4570b3"/>
<circle cx="1219.0" cy="530.9" r="6.2" fill="#e3a23e"/>
<line x1="894.8" y1="652.5" x2="914.2" y2="652.5" stroke="#a0342f" stroke-width="5.0"/>
<text x="924.69" y="660.8" font-size="21.5" fill="#1a1a1a" textLength="85.60" lengthAdjust="spacingAndGlyphs">Jan 2000</text>
<circle cx="1031.5" cy="652.6" r="5.6" fill="#4570b3"/>
<text x="1051.96" y="660.8" font-size="21.5" fill="#1a1a1a" textLength="94.57" lengthAdjust="spacingAndGlyphs">Mar 2025</text>
<circle cx="1165.4" cy="652.6" r="5.6" fill="#e3a23e"/>
<text x="1186.46" y="660.8" font-size="21.5" fill="#1a1a1a" textLength="93.03" lengthAdjust="spacingAndGlyphs">Aug 2025</text>
<text x="895.38" y="692.9" font-size="21.5" fill="#1a1a1a" textLength="197.86" lengthAdjust="spacingAndGlyphs">Jan 1990–Aug 2025:</text>
<rect x="898.3" y="709.6" width="12.2" height="12.2" fill="#b9838f" stroke="#000000" stroke-width="2"/>
<text x="924.60" y="722.7" font-size="21.5" fill="#1a1a1a" textLength="282.18" lengthAdjust="spacingAndGlyphs">Median, interquartile range,</text>
<text x="924.98" y="750.4" font-size="21.5" fill="#1a1a1a" textLength="169.84" lengthAdjust="spacingAndGlyphs">interdecile range</text>
<text x="46.15" y="791.0" font-size="19.5" fill="#1a1a1a" textLength="32.99" lengthAdjust="spacingAndGlyphs">EPS</text>
<text x="84.98" y="791.0" font-size="19.5" fill="#1a1a1a" textLength="12.35" lengthAdjust="spacingAndGlyphs">=</text>
<text x="103.27" y="791.0" font-size="19.5" fill="#1a1a1a" textLength="76.25" lengthAdjust="spacingAndGlyphs">earnings</text>
<text x="185.07" y="791.0" font-size="19.5" fill="#1a1a1a" textLength="27.74" lengthAdjust="spacingAndGlyphs">per</text>
<text x="219.48" y="791.0" font-size="19.5" fill="#1a1a1a" textLength="53.98" lengthAdjust="spacingAndGlyphs">share;</text>
<text x="276.86" y="791.0" font-size="19.5" fill="#1a1a1a" textLength="32.28" lengthAdjust="spacingAndGlyphs">P/B</text>
<text x="315.21" y="791.0" font-size="19.5" fill="#1a1a1a" textLength="11.99" lengthAdjust="spacingAndGlyphs">=</text>
<text x="332.13" y="791.0" font-size="19.5" fill="#1a1a1a" textLength="130.48" lengthAdjust="spacingAndGlyphs">price-to-book;</text>
<text x="465.13" y="791.0" font-size="19.5" fill="#1a1a1a" textLength="30.76" lengthAdjust="spacingAndGlyphs">P/E</text>
<text x="502.37" y="791.0" font-size="19.5" fill="#1a1a1a" textLength="10.07" lengthAdjust="spacingAndGlyphs">=</text>
<text x="518.68" y="791.0" font-size="19.5" fill="#1a1a1a" textLength="134.89" lengthAdjust="spacingAndGlyphs">price/earnings.</text>
<text x="47.70" y="826.1" font-size="19.5" fill="#1a1a1a" textLength="31.41" lengthAdjust="spacingAndGlyphs">The</text>
<text x="84.77" y="826.1" font-size="19.5" fill="#1a1a1a" textLength="64.28" lengthAdjust="spacingAndGlyphs">shaded</text>
<text x="154.51" y="826.1" font-size="19.5" fill="#1a1a1a" textLength="37.68" lengthAdjust="spacingAndGlyphs">area</text>
<text x="198.21" y="826.1" font-size="19.5" fill="#1a1a1a" textLength="76.88" lengthAdjust="spacingAndGlyphs">indicates</text>
<text x="279.77" y="826.1" font-size="19.5" fill="#1a1a1a" textLength="10.43" lengthAdjust="spacingAndGlyphs">1</text>
<text x="297.82" y="826.1" font-size="19.5" fill="#1a1a1a" textLength="61.62" lengthAdjust="spacingAndGlyphs">June–4</text>
<text x="364.01" y="826.1" font-size="19.5" fill="#1a1a1a" textLength="97.00" lengthAdjust="spacingAndGlyphs">September</text>
<text x="466.30" y="826.1" font-size="19.5" fill="#1a1a1a" textLength="44.64" lengthAdjust="spacingAndGlyphs">2025</text>
<text x="516.29" y="826.1" font-size="19.5" fill="#1a1a1a" textLength="65.55" lengthAdjust="spacingAndGlyphs">(period</text>
<text x="585.20" y="826.1" font-size="19.5" fill="#1a1a1a" textLength="51.92" lengthAdjust="spacingAndGlyphs">under</text>
<text x="640.54" y="826.1" font-size="19.5" fill="#1a1a1a" textLength="72.02" lengthAdjust="spacingAndGlyphs">review).</text>
<text x="47.07" y="853.1" font-size="14.5" fill="#1a1a1a" textLength="7.02" lengthAdjust="spacingAndGlyphs">a</text>
<text x="63.41" y="861.2" font-size="19.5" fill="#1a1a1a" textLength="98.63" lengthAdjust="spacingAndGlyphs">Ninety-day</text>
<text x="175.47" y="861.2" font-size="19.5" fill="#1a1a1a" textLength="42.08" lengthAdjust="spacingAndGlyphs">tariff</text>
<text x="230.55" y="861.2" font-size="19.5" fill="#1a1a1a" textLength="53.01" lengthAdjust="spacingAndGlyphs">pause</text>
<text x="295.35" y="861.2" font-size="19.5" fill="#1a1a1a" textLength="99.64" lengthAdjust="spacingAndGlyphs">announced</text>
<text x="406.42" y="861.2" font-size="19.5" fill="#1a1a1a" textLength="19.72" lengthAdjust="spacingAndGlyphs">(9</text>
<text x="437.26" y="861.2" font-size="19.5" fill="#1a1a1a" textLength="42.35" lengthAdjust="spacingAndGlyphs">April</text>
<text x="491.32" y="861.2" font-size="19.5" fill="#1a1a1a" textLength="55.55" lengthAdjust="spacingAndGlyphs">2025).</text>
<text x="587.80" y="861.2" font-size="19.5" fill="#1a1a1a" textLength="31.72" lengthAdjust="spacingAndGlyphs">The</text>
<text x="630.59" y="861.2" font-size="19.5" fill="#1a1a1a" textLength="60.46" lengthAdjust="spacingAndGlyphs">United</text>
<text x="703.66" y="861.2" font-size="19.5" fill="#1a1a1a" textLength="52.71" lengthAdjust="spacingAndGlyphs">States</text>
<text x="768.11" y="861.2" font-size="19.5" fill="#1a1a1a" textLength="35.25" lengthAdjust="spacingAndGlyphs">and</text>
<text x="814.73" y="861.2" font-size="19.5" fill="#1a1a1a" textLength="50.75" lengthAdjust="spacingAndGlyphs">China</text>
<text x="877.76" y="861.2" font-size="19.5" fill="#1a1a1a" textLength="51.13" lengthAdjust="spacingAndGlyphs">agree</text>
<text x="941.14" y="861.2" font-size="19.5" fill="#1a1a1a" textLength="20.05" lengthAdjust="spacingAndGlyphs">to</text>
<text x="972.37" y="861.2" font-size="19.5" fill="#1a1a1a" textLength="61.56" lengthAdjust="spacingAndGlyphs">90-day</text>
<text x="1047.48" y="861.2" font-size="19.5" fill="#1a1a1a" textLength="41.37" lengthAdjust="spacingAndGlyphs">tariff</text>
<text x="1101.06" y="861.2" font-size="19.5" fill="#1a1a1a" textLength="93.77" lengthAdjust="spacingAndGlyphs">reductions</text>
<text x="1207.76" y="861.2" font-size="19.5" fill="#1a1a1a" textLength="28.82" lengthAdjust="spacingAndGlyphs">(14</text>
<text x="1247.40" y="861.2" font-size="19.5" fill="#1a1a1a" textLength="39.14" lengthAdjust="spacingAndGlyphs">May</text>
<text x="565.44" y="853.1" font-size="14.5" fill="#1a1a1a" textLength="9.25" lengthAdjust="spacingAndGlyphs">b</text>
<text x="45.92" y="888.0" font-size="19.5" fill="#1a1a1a" textLength="55.55" lengthAdjust="spacingAndGlyphs">2025).</text>
<text x="140.10" y="888.0" font-size="19.5" fill="#1a1a1a" textLength="66.78" lengthAdjust="spacingAndGlyphs">Signing</text>
<text x="212.60" y="888.0" font-size="19.5" fill="#1a1a1a" textLength="17.86" lengthAdjust="spacingAndGlyphs">of</text>
<text x="236.09" y="888.0" font-size="19.5" fill="#1a1a1a" textLength="28.62" lengthAdjust="spacingAndGlyphs">the</text>
<text x="270.28" y="888.0" font-size="19.5" fill="#1a1a1a" textLength="28.48" lengthAdjust="spacingAndGlyphs">Big</text>
<text x="303.45" y="888.0" font-size="19.5" fill="#1a1a1a" textLength="78.19" lengthAdjust="spacingAndGlyphs">Beautiful</text>
<text x="387.29" y="888.0" font-size="19.5" fill="#1a1a1a" textLength="26.22" lengthAdjust="spacingAndGlyphs">Bill</text>
<text x="418.60" y="888.0" font-size="19.5" fill="#1a1a1a" textLength="17.27" lengthAdjust="spacingAndGlyphs">(4</text>
<text x="441.02" y="888.0" font-size="19.5" fill="#1a1a1a" textLength="32.72" lengthAdjust="spacingAndGlyphs">July</text>
<text x="478.70" y="888.0" font-size="19.5" fill="#1a1a1a" textLength="56.71" lengthAdjust="spacingAndGlyphs">2025).</text>
<text x="123.26" y="879.9" font-size="14.5" fill="#1a1a1a" textLength="6.48" lengthAdjust="spacingAndGlyphs">c</text>
<text x="46.66" y="913.7" font-size="14.5" fill="#1a1a1a" textLength="8.37" lengthAdjust="spacingAndGlyphs">1</text>
<text x="63.55" y="921.8" font-size="19.5" fill="#1a1a1a" textLength="25.19" lengthAdjust="spacingAndGlyphs">EA</text>
<text x="98.83" y="921.8" font-size="19.5" fill="#1a1a1a" textLength="10.55" lengthAdjust="spacingAndGlyphs">=</text>
<text x="119.68" y="921.8" font-size="19.5" fill="#1a1a1a" textLength="50.06" lengthAdjust="spacingAndGlyphs">EURO</text>
<text x="180.72" y="921.8" font-size="19.5" fill="#1a1a1a" textLength="58.34" lengthAdjust="spacingAndGlyphs">STOXX</text>
<text x="248.23" y="921.8" font-size="19.5" fill="#1a1a1a" textLength="26.81" lengthAdjust="spacingAndGlyphs">50;</text>
<text x="283.76" y="921.8" font-size="19.5" fill="#1a1a1a" textLength="24.31" lengthAdjust="spacingAndGlyphs">GB</text>
<text x="318.93" y="921.8" font-size="19.5" fill="#1a1a1a" textLength="10.55" lengthAdjust="spacingAndGlyphs">=</text>
<text x="339.89" y="921.8" font-size="19.5" fill="#1a1a1a" textLength="40.88" lengthAdjust="spacingAndGlyphs">FTSE</text>
<text x="388.93" y="921.8" font-size="19.5" fill="#1a1a1a" textLength="40.24" lengthAdjust="spacingAndGlyphs">100;</text>
<text x="435.87" y="921.8" font-size="19.5" fill="#1a1a1a" textLength="25.88" lengthAdjust="spacingAndGlyphs">US</text>
<text x="471.87" y="921.8" font-size="19.5" fill="#1a1a1a" textLength="11.27" lengthAdjust="spacingAndGlyphs">=</text>
<text x="493.05" y="921.8" font-size="19.5" fill="#1a1a1a" textLength="37.94" lengthAdjust="spacingAndGlyphs">S&amp;P</text>
<text x="540.22" y="921.8" font-size="19.5" fill="#1a1a1a" textLength="38.18" lengthAdjust="spacingAndGlyphs">500.</text>
<text x="617.26" y="921.8" font-size="19.5" fill="#1a1a1a" textLength="46.98" lengthAdjust="spacingAndGlyphs">EMEs</text>
<text x="674.37" y="921.8" font-size="19.5" fill="#1a1a1a" textLength="11.27" lengthAdjust="spacingAndGlyphs">=</text>
<text x="695.70" y="921.8" font-size="19.5" fill="#1a1a1a" textLength="48.90" lengthAdjust="spacingAndGlyphs">MSCI</text>
<text x="750.78" y="921.8" font-size="19.5" fill="#1a1a1a" textLength="35.20" lengthAdjust="spacingAndGlyphs">EM;</text>
<text x="793.84" y="921.8" font-size="19.5" fill="#1a1a1a" textLength="20.05" lengthAdjust="spacingAndGlyphs">JP</text>
<text x="823.37" y="921.8" font-size="19.5" fill="#1a1a1a" textLength="11.27" lengthAdjust="spacingAndGlyphs">=</text>
<text x="844.00" y="921.8" font-size="19.5" fill="#1a1a1a" textLength="56.59" lengthAdjust="spacingAndGlyphs">Nikkei</text>
<text x="907.51" y="921.8" font-size="19.5" fill="#1a1a1a" textLength="38.39" lengthAdjust="spacingAndGlyphs">225.</text>
<text x="984.88" y="921.8" font-size="19.5" fill="#1a1a1a" textLength="24.76" lengthAdjust="spacingAndGlyphs">EA</text>
<text x="1018.77" y="921.8" font-size="19.5" fill="#1a1a1a" textLength="51.44" lengthAdjust="spacingAndGlyphs">banks</text>
<text x="1080.47" y="921.8" font-size="19.5" fill="#1a1a1a" textLength="11.27" lengthAdjust="spacingAndGlyphs">=</text>
<text x="1101.65" y="921.8" font-size="19.5" fill="#1a1a1a" textLength="51.00" lengthAdjust="spacingAndGlyphs">EURO</text>
<text x="1163.02" y="921.8" font-size="19.5" fill="#1a1a1a" textLength="58.34" lengthAdjust="spacingAndGlyphs">STOXX</text>
<text x="1228.83" y="921.8" font-size="19.5" fill="#1a1a1a" textLength="58.71" lengthAdjust="spacingAndGlyphs">Banks;</text>
<text x="598.71" y="913.7" font-size="14.5" fill="#1a1a1a" textLength="8.78" lengthAdjust="spacingAndGlyphs">2</text>
<text x="967.22" y="913.7" font-size="14.5" fill="#1a1a1a" textLength="8.43" lengthAdjust="spacingAndGlyphs">3</text>
<text x="45.90" y="948.5" font-size="19.5" fill="#1a1a1a" textLength="123.33" lengthAdjust="spacingAndGlyphs">Magnificent 7</text>
<text x="175.62" y="948.5" font-size="19.5" fill="#1a1a1a" textLength="98.00" lengthAdjust="spacingAndGlyphs">=Alphabet,</text>
<text x="278.86" y="948.5" font-size="19.5" fill="#1a1a1a" textLength="77.31" lengthAdjust="spacingAndGlyphs">Amazon,</text>
<text x="360.66" y="948.5" font-size="19.5" fill="#1a1a1a" textLength="58.38" lengthAdjust="spacingAndGlyphs">Apple,</text>
<text x="422.93" y="948.5" font-size="19.5" fill="#1a1a1a" textLength="54.01" lengthAdjust="spacingAndGlyphs">Meta,</text>
<text x="477.96" y="948.5" font-size="19.5" fill="#1a1a1a" textLength="91.74" lengthAdjust="spacingAndGlyphs">Microsoft,</text>
<text x="571.76" y="948.5" font-size="19.5" fill="#1a1a1a" textLength="55.72" lengthAdjust="spacingAndGlyphs">Nvidia</text>
<text x="631.31" y="948.5" font-size="19.5" fill="#1a1a1a" textLength="35.25" lengthAdjust="spacingAndGlyphs">and</text>
<text x="669.46" y="948.5" font-size="19.5" fill="#1a1a1a" textLength="52.58" lengthAdjust="spacingAndGlyphs">Tesla.</text>
<text x="760.19" y="948.5" font-size="19.5" fill="#1a1a1a" textLength="61.48" lengthAdjust="spacingAndGlyphs">Simple</text>
<text x="825.98" y="948.5" font-size="19.5" fill="#1a1a1a" textLength="75.68" lengthAdjust="spacingAndGlyphs">average.</text>
<text x="940.59" y="948.5" font-size="19.5" fill="#1a1a1a" textLength="63.18" lengthAdjust="spacingAndGlyphs">Europe</text>
<text x="1010.67" y="948.5" font-size="19.5" fill="#1a1a1a" textLength="11.27" lengthAdjust="spacingAndGlyphs">=</text>
<text x="1028.23" y="948.5" font-size="19.5" fill="#1a1a1a" textLength="47.83" lengthAdjust="spacingAndGlyphs">MSCI</text>
<text x="1080.29" y="948.5" font-size="19.5" fill="#1a1a1a" textLength="68.98" lengthAdjust="spacingAndGlyphs">Europe;</text>
<text x="1152.55" y="948.5" font-size="19.5" fill="#1a1a1a" textLength="26.20" lengthAdjust="spacingAndGlyphs">US</text>
<text x="1183.45" y="948.5" font-size="19.5" fill="#1a1a1a" textLength="12.83" lengthAdjust="spacingAndGlyphs">=</text>
<text x="1202.73" y="948.5" font-size="19.5" fill="#1a1a1a" textLength="47.72" lengthAdjust="spacingAndGlyphs">MSCI</text>
<text x="1253.90" y="948.5" font-size="19.5" fill="#1a1a1a" textLength="30.25" lengthAdjust="spacingAndGlyphs">US.</text>
<text x="742.47" y="940.4" font-size="14.5" fill="#1a1a1a" textLength="8.26" lengthAdjust="spacingAndGlyphs">4</text>
<text x="924.25" y="940.4" font-size="14.5" fill="#1a1a1a" textLength="6.32" lengthAdjust="spacingAndGlyphs">5</text>
<text x="31.19" y="1028.0" font-size="30.5" fill="#585858" textLength="255.97" lengthAdjust="spacingAndGlyphs">Source: BIS (2025).</text>
</svg>
</body></html>
